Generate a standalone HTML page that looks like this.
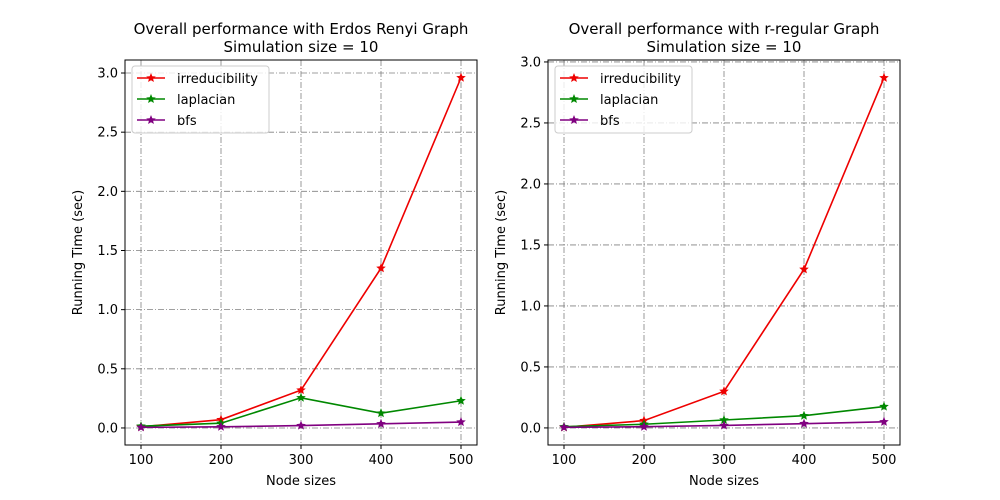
<!DOCTYPE html>
<html><head><meta charset="utf-8"><style>body{margin:0;background:#fff}svg{display:block;font-family:"DejaVu Sans","Liberation Sans",sans-serif}</style></head>
<body>
<svg id="c" width="1000" height="500"></svg>
<script>
const categories=[100,200,300,400,500];
const leftIrr=[0.01,0.07,0.32,1.35,2.96];
const leftLap=[0.015,0.04,0.255,0.125,0.23];
const leftBfs=[0.005,0.01,0.02,0.035,0.05];
const rightIrr=[0.005,0.06,0.30,1.30,2.87];
const rightLap=[0.01,0.03,0.065,0.10,0.175];
const rightBfs=[0.005,0.01,0.02,0.035,0.05];
const leftTicks=[0,0.5,1,1.5,2,2.5,3];
const rightTicks=[0,0.5,1,1.5,2,2.5,3];
const seriesNames=["irreducibility","laplacian","bfs"];
const colors=["#e00","#080","#800080"];
const NS="http://www.w3.org/2000/svg";
const svg=document.getElementById('c');
function mk(t,a,p){const e=document.createElementNS(NS,t);for(const k in a)e.setAttribute(k,a[k]);(p||svg).appendChild(e);return e;}
function star(x,y,r){let p=[];for(let i=0;i<10;i++){const rr=i%2?r*0.45:r;const a=-Math.PI/2+i*Math.PI/5;p.push((x+rr*Math.cos(a)).toFixed(1)+','+(y+rr*Math.sin(a)).toFixed(1));}return p.join(' ');}
function panel(id,L,R,T,B,ymin,ymax,ticks,series,t1){
  const g=mk('g',{});
  
  
  const xs=v=>L+16+(v-100)/400*(R-L-32);
  const ys=v=>B-(v-ymin)/(ymax-ymin)*(B-T);
  categories.forEach(c=>{const l=mk('line',{x1:xs(c),x2:xs(c),y1:T,y2:B,stroke:'#808080','stroke-width':0.8,'stroke-dasharray':'6,2,1,2'},g);
    const t=mk('text',{x:xs(c),y:B+19,'text-anchor':'middle','font-size':13},g);t.textContent=c;
    mk('line',{x1:xs(c),x2:xs(c),y1:B,y2:B+4,stroke:'#000'},g);});
  ticks.forEach(v=>{const l=mk('line',{x1:L,x2:R,y1:ys(v),y2:ys(v),stroke:'#808080','stroke-width':0.8,'stroke-dasharray':'6,2,1,2'},g);
    const t=mk('text',{x:L-7,y:ys(v)+4.5,'text-anchor':'end','font-size':13},g);t.textContent=v.toFixed(1);
    mk('line',{x1:L-4,x2:L,y1:ys(v),y2:ys(v),stroke:'#000'},g);});
  series.forEach((s,i)=>{const pl=mk('polyline',{points:s.map((v,j)=>xs(categories[j])+','+ys(v)).join(' '),fill:'none',stroke:colors[i],'stroke-width':1.6},g);
    s.forEach((v,j)=>{const p=mk('polygon',{points:star(xs(categories[j]),ys(v),5),fill:colors[i]},g);});});
  const f=mk('rect',{x:L,y:T,width:R-L,height:B-T,fill:'none',stroke:'#000','stroke-width':1},g);
  const lg=mk('g',{},g);
  mk('rect',{x:L+7,y:T+6,width:137,height:67,rx:3,fill:'#fff','fill-opacity':0.8,stroke:'#ccc'},lg);
  seriesNames.forEach((n,i)=>{const y=T+18+i*21;mk('line',{x1:L+12,x2:L+40,y1:y,y2:y,stroke:colors[i],'stroke-width':1.6},lg);mk('polygon',{points:star(L+26,y,5),fill:colors[i]},lg);
    const t=mk('text',{x:L+52,y:y+5,'font-size':13},lg);t.textContent=n;});
  const tt=mk('text',{x:(L+R)/2,y:34,'text-anchor':'middle','font-size':15},g);tt.textContent=t1;
  const t2=mk('text',{x:(L+R)/2,y:52,'text-anchor':'middle','font-size':15},g);t2.textContent='Simulation size = 10';
  const xl=mk('text',{x:(L+R)/2,y:485,'text-anchor':'middle','font-size':13},g);xl.textContent='Node sizes';
  const yl=mk('text',{x:0,y:0,'text-anchor':'middle','font-size':13,transform:`translate(${L-43},${(T+B)/2}) rotate(-90)`},g);yl.textContent='Running Time (sec)';
}
panel('left-panel',125,477,60,445,-0.144,3.11,leftTicks,[leftIrr,leftLap,leftBfs],'Overall performance with Erdos Renyi Graph');
panel('right-panel',548,900,60,445,-0.14,3.016,rightTicks,[rightIrr,rightLap,rightBfs],'Overall performance with r-regular Graph');
</script>
</body></html>
